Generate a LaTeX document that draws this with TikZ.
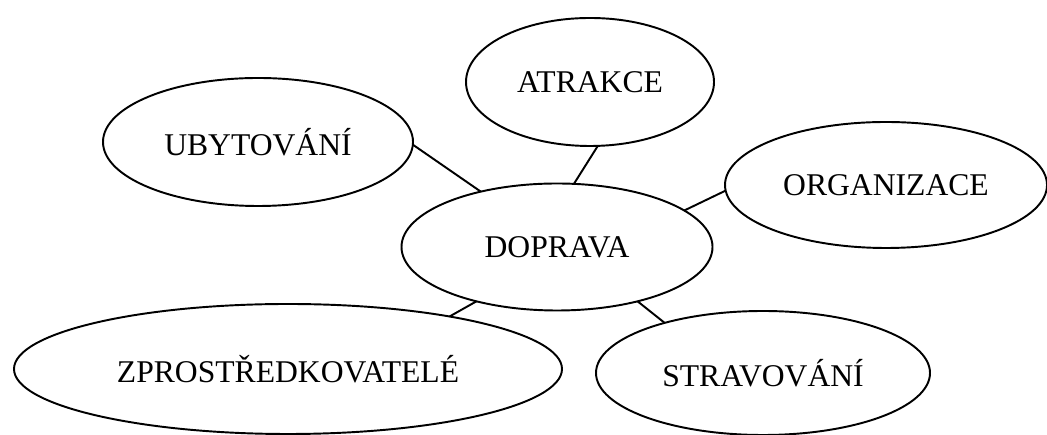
\documentclass[tikz,border=0pt]{standalone}
\usepackage{fontspec}
\setmainfont{Liberation Serif}
\usetikzlibrary{shapes,positioning,calc}

\begin{document}
\begin{tikzpicture}[
			bubble/.style={ellipse, draw=black, line width=1.1pt, fill=white,
				inner sep=0pt, outer sep=0pt, minimum height=2.54cm,
				font=\fontsize{18}{21}\selectfont},
			line/.style={draw, line width=1.1pt}]
			
			\useasboundingbox (0,0) rectangle (20.94,8.7);
			
			% Centre
			\node[bubble, minimum width=6.22cm] (dop) at (11.14,3.76) {DOPRAVA};
			
			% Outer ring
			\node[bubble, minimum width=4.96cm, minimum height=2.56cm] (atr) at (11.8,7.06) {ATRAKCE};
			\node[bubble, minimum width=6.2cm, minimum height=2.56cm] (uby) at (5.16,5.86) {UBYTOVÁNÍ};
			\node[bubble, minimum width=6.44cm, minimum height=2.52cm] (org) at (17.72,5.0) {ORGANIZACE};
			\node[bubble, minimum width=10.96cm, minimum height=2.6cm] (zpr) at (5.76,1.32) {ZPROSTŘEDKOVATELÉ};
			\node[bubble, minimum width=6.68cm, minimum height=2.48cm] (str) at (15.26,1.24) {STRAVOVÁNÍ};
			
			% Links
			\path[line] (uby.-1.5) -- (dop.144.8);
			\path[line] (atr.-83.8) -- (dop.75.7);
			\path[line] (org.182.8) -- (dop.16.1);
			\path[line] (dop.214.3) -- (zpr.18.5);
			\path[line] (dop.-34.7) -- (str.153);
		\end{tikzpicture}
\end{document}
